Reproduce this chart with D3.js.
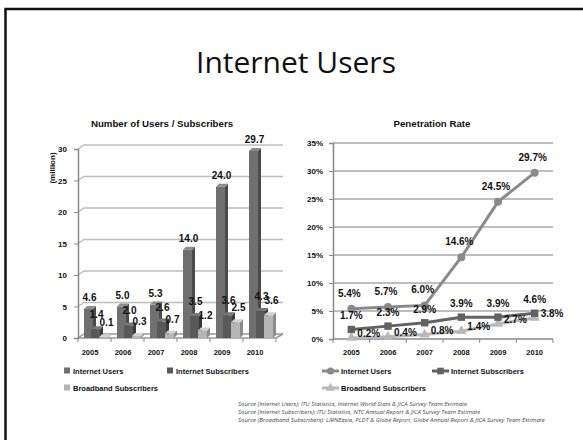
<!DOCTYPE html>
<html>
<head>
<meta charset="utf-8">
<script src="https://cdn.jsdelivr.net/npm/d3@7/dist/d3.min.js"></script>
<style>
  html, body { margin: 0; padding: 0; background: #ffffff; }
  svg { display: block; }
  .lbl { font-family: "Liberation Sans", Arial, sans-serif; font-weight: bold; fill: #111; }
</style>
</head>
<body>
<svg id="chart" width="583" height="440"></svg>
<script>
// Years on both category axes
const years = ["2005", "2006", "2007", "2008", "2009", "2010"];

// Number of users / subscribers (million)
const usersMillion = [4.6, 5.0, 5.3, 14.0, 24.0, 29.7];
const subscribersMillion = [1.4, 2.0, 2.6, 3.5, 3.6, 4.3];
const broadbandMillion = [0.1, 0.3, 0.7, 1.2, 2.5, 3.6];

// Penetration rate (%)
const usersRate = [5.4, 5.7, 6.0, 14.6, 24.5, 29.7];
const subscribersRate = [1.7, 2.3, 2.9, 3.9, 3.9, 4.6];
const broadbandRate = [0.2, 0.4, 0.8, 1.4, 2.7, 3.8];

// Axis ticks
const countTicks = [0, 5, 10, 15, 20, 25, 30];
const rateTicks = [0, 5, 10, 15, 20, 25, 30, 35];

const seriesNames = ["Internet Users", "Internet Subscribers", "Broadband Subscribers"];

const sourceLines = [
  "Source (Internet Users): ITU Statistics, Internet World Stats & JICA Survey Team Estimate",
  "Source (Internet Subscribers): ITU Statistics, NTC Annual Report & JICA Survey Team Estimate",
  "Source (Broadband Subscribers): LIRNEasia, PLDT & Globe Report, Globe Annual Report & JICA Survey Team Estimate"
];

const svg = d3.select("#chart");

// Slide frame
svg.append("path")
  .attr("d", "M5.5,440 V9 H583")
  .attr("fill", "none").attr("stroke", "#111").attr("stroke-width", 2.5);

// Slide title
svg.append("text")
  .attr("x", 296).attr("y", 73)
  .attr("text-anchor", "middle")
  .style("font-family", "'Open Sans', sans-serif")
  .style("font-size", "30px")
  .attr("fill", "#111")
  .text("Internet Users");

/* ---------- Left: Number of Users / Subscribers (3D columns) ---------- */
const barG = svg.append("g");
const xBar = d3.scaleBand().domain(years).range([78, 276]);
const yBar = d3.scaleLinear().domain([0, 30]).range([338, 149]);
const depthX = 6, depthY = 4;

barG.append("text").attr("class", "lbl")
  .attr("x", 162).attr("y", 127).attr("text-anchor", "middle")
  .style("font-size", "9.7px").text("Number of Users / Subscribers");

barG.append("text").attr("class", "lbl")
  .attr("transform", "translate(55,168) rotate(-90)")
  .attr("text-anchor", "middle").style("font-size", "8px").text("(million)");

// Back-wall gridlines, each joined to the axis by a short slanted segment
countTicks.forEach(t => {
  const y = yBar(t);
  barG.append("path")
    .attr("d", `M${xBar.range()[0]},${y} L${xBar.range()[0] + depthX},${y - depthY} H283`)
    .attr("fill", "none").attr("stroke", t === 0 ? "#999" : "#bdbdbd").attr("stroke-width", 1.5);
});

// Floor front edge and right edge
barG.append("path")
  .attr("d", `M${xBar.range()[0]},${yBar(0)} H${xBar.range()[1]} L283,${yBar(0) - depthY}`)
  .attr("fill", "none").attr("stroke", "#999").attr("stroke-width", 1.5);

// Y axis with ticks and labels
const yAxisBar = d3.axisLeft(yBar).tickValues(countTicks).tickSize(4).tickFormat(d3.format("d"));
barG.append("g").attr("transform", `translate(${xBar.range()[0]},0)`).call(yAxisBar)
  .call(g => g.select(".domain").attr("stroke", "#888").attr("stroke-width", 1.5))
  .call(g => g.selectAll(".tick line").attr("stroke", "#888"))
  .call(g => g.selectAll(".tick text").attr("class", "lbl").attr("dx", -4).attr("dy", "0.35em")
    .style("font-size", "8px").attr("fill", "#111"));

// X axis tick marks at band boundaries and year labels
barG.selectAll(".xtick").data(years.concat(["end"])).join("line")
  .attr("x1", (d, i) => xBar.range()[0] + i * xBar.step())
  .attr("x2", (d, i) => xBar.range()[0] + i * xBar.step())
  .attr("y1", yBar(0)).attr("y2", yBar(0) + 4)
  .attr("stroke", "#888");
barG.selectAll(".year").data(years).join("text").attr("class", "lbl")
  .attr("x", d => xBar(d) + 12).attr("y", 355).attr("text-anchor", "middle")
  .style("font-size", "7.5px").text(d => d);

const barSeries = [
  { values: usersMillion, offset: 6, front: "#707070", side: "#4a4a4a", top: "#8c8c8c", labelDx: 0, labelDy: -8 },
  { values: subscribersMillion, offset: 13, front: "#595959", side: "#3a3a3a", top: "#777777", labelDx: 0, labelDy: -11 },
  { values: broadbandMillion, offset: 21, front: "#b5b5b5", side: "#8c8c8c", top: "#d2d2d2", labelDx: 2, labelDy: -11 }
];
const barW = 9, sideX = 3, sideY = 3;

years.forEach((yr, i) => {
  barSeries.forEach(s => {
    const v = s.values[i];
    const x0 = xBar(yr) + s.offset;
    const yT = yBar(v), yB = yBar(0);
    barG.append("path")
      .attr("d", `M${x0 + barW},${yT} L${x0 + barW + sideX},${yT - sideY} V${yB - sideY} L${x0 + barW},${yB} Z`)
      .attr("fill", s.side);
    barG.append("path")
      .attr("d", `M${x0},${yT} L${x0 + sideX},${yT - sideY} H${x0 + barW + sideX} L${x0 + barW},${yT} Z`)
      .attr("fill", s.top);
    barG.append("rect")
      .attr("x", x0).attr("y", yT).attr("width", barW).attr("height", yB - yT)
      .attr("fill", s.front);
  });
  barSeries.forEach(s => {
    const v = s.values[i];
    barG.append("text").attr("class", "lbl")
      .attr("x", xBar(yr) + s.offset + barW / 2 + 1 + s.labelDx)
      .attr("y", yBar(v) + s.labelDy)
      .attr("text-anchor", "middle").style("font-size", "10px")
      .text(d3.format(".1f")(v));
  });
});

// Column legend
const barLegend = [
  { name: seriesNames[0], color: "#707070", x: 64, y: 371 },
  { name: seriesNames[1], color: "#595959", x: 167, y: 371 },
  { name: seriesNames[2], color: "#b5b5b5", x: 64, y: 388 }
];
barLegend.forEach(l => {
  svg.append("rect").attr("x", l.x).attr("y", l.y - 3.5).attr("width", 6).attr("height", 6).attr("fill", l.color);
  svg.append("text").attr("class", "lbl").attr("x", l.x + 9).attr("y", l.y + 2.5)
    .style("font-size", "7.5px").text(l.name);
});

/* ---------- Right: Penetration Rate (lines) ---------- */
const lineG = svg.append("g");
const xLine = d3.scaleBand().domain(years).range([333, 553]);
const yLine = d3.scaleLinear().domain([0, 35]).range([339, 143]);
const cx = d => xLine(d) + xLine.bandwidth() / 2;

lineG.append("text").attr("class", "lbl")
  .attr("x", 432).attr("y", 127).attr("text-anchor", "middle")
  .style("font-size", "9.7px").text("Penetration Rate");

// Gridlines
lineG.selectAll(".grid").data(rateTicks.filter(t => t > 0)).join("line")
  .attr("x1", xLine.range()[0]).attr("x2", xLine.range()[1])
  .attr("y1", d => yLine(d)).attr("y2", d => yLine(d))
  .attr("stroke", "#a8a8a8").attr("stroke-width", 1.5);

const yAxisLine = d3.axisLeft(yLine).tickValues(rateTicks).tickSize(4).tickFormat(d => d + "%");
lineG.append("g").attr("transform", `translate(${xLine.range()[0]},0)`).call(yAxisLine)
  .call(g => g.select(".domain").attr("stroke", "#888").attr("stroke-width", 1.5))
  .call(g => g.selectAll(".tick line").attr("stroke", "#888"))
  .call(g => g.selectAll(".tick text").attr("class", "lbl").attr("dx", -3).attr("dy", "0.35em")
    .style("font-size", "8px").attr("fill", "#111"));

// Category axis
lineG.append("line")
  .attr("x1", xLine.range()[0]).attr("x2", xLine.range()[1])
  .attr("y1", yLine(0)).attr("y2", yLine(0))
  .attr("stroke", "#888").attr("stroke-width", 1.5);
lineG.selectAll(".xtick").data(years.concat(["end"])).join("line")
  .attr("x1", (d, i) => xLine.range()[0] + i * xLine.step())
  .attr("x2", (d, i) => xLine.range()[0] + i * xLine.step())
  .attr("y1", yLine(0)).attr("y2", yLine(0) + 4)
  .attr("stroke", "#888");
lineG.selectAll(".year").data(years).join("text").attr("class", "lbl")
  .attr("x", d => cx(d)).attr("y", 355).attr("text-anchor", "middle")
  .style("font-size", "7.5px").text(d => d);

const lineSeries = [
  { name: seriesNames[0], values: usersRate, color: "#8a8a8a", marker: d3.symbolCircle, size: 50, ldx: -2, ldy: -12, anchor: "middle" },
  { name: seriesNames[1], values: subscribersRate, color: "#626262", marker: d3.symbolSquare, size: 55, ldx: 0, ldy: -10, anchor: "middle" },
  { name: seriesNames[2], values: broadbandRate, color: "#b8b8b8", marker: d3.symbolTriangle, size: 45, ldx: 6, ldy: -1, anchor: "start" }
];

const lineGen = d3.line().x((v, i) => cx(years[i])).y(v => yLine(v));

lineSeries.slice().reverse().forEach(s => {
  lineG.append("path").attr("d", lineGen(s.values))
    .attr("fill", "none").attr("stroke", s.color).attr("stroke-width", 3);
  lineG.selectAll(null).data(s.values).join("path")
    .attr("transform", (v, i) => `translate(${cx(years[i])},${yLine(v)})`)
    .attr("d", d3.symbol().type(s.marker).size(s.size))
    .attr("fill", s.color);
});

lineSeries.forEach(s => {
  lineG.selectAll(null).data(s.values).join("text").attr("class", "lbl")
    .attr("x", (v, i) => cx(years[i]) + s.ldx)
    .attr("y", v => yLine(v) + s.ldy)
    .attr("text-anchor", s.anchor).style("font-size", "10px")
    .text(v => d3.format(".1f")(v) + "%");
});

// Line legend
const lineLegend = [
  { s: lineSeries[0], x: 322, y: 371 },
  { s: lineSeries[1], x: 432, y: 371 },
  { s: lineSeries[2], x: 322, y: 388 }
];
lineLegend.forEach(l => {
  svg.append("line").attr("x1", l.x).attr("x2", l.x + 17).attr("y1", l.y).attr("y2", l.y)
    .attr("stroke", l.s.color).attr("stroke-width", 3);
  svg.append("path").attr("transform", `translate(${l.x + 8.5},${l.y})`)
    .attr("d", d3.symbol().type(l.s.marker).size(l.s.size * 0.8)).attr("fill", l.s.color);
  svg.append("text").attr("class", "lbl").attr("x", l.x + 19).attr("y", l.y + 2.5)
    .style("font-size", "7.5px").text(l.s.name);
});

// Source notes
svg.selectAll(".src").data(sourceLines).join("text")
  .attr("x", 238).attr("y", (d, i) => 406 + i * 8)
  .style("font-family", "'Open Sans', sans-serif").style("font-style", "italic")
  .style("font-size", "6px").attr("fill", "#444")
  .text(d => d);
</script>
</body>
</html>
